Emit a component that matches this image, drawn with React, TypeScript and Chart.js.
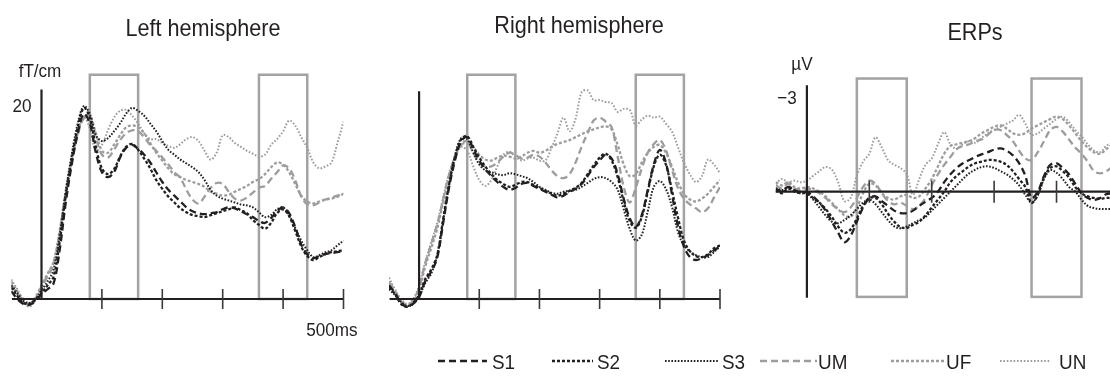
import React, { useEffect, useRef } from "react";
import { Chart, registerables } from "chart.js";

Chart.register(...registerables);

// ---------- DATA ----------
const seriesNames = ["S1", "S2", "S3", "UM", "UF", "UN"];
const timesMEG = [-50,-40,-30,-20,-10,0,10,20,30,40,50,60,70,80,90,100,110,120,130,140,150,160,170,180,190,200,210,220,230,240,250,260,270,280,290,300,310,320,330,340,350,360,370,380,390,400,410,420,430,440,450,460,470,480,490,500];
const timesERP = [-50,-40,-30,-20,-10,0,10,20,30,40,50,60,70,80,90,100,110,120,130,140,150,160,170,180,190,200,210,220,230,240,250,260,270,280,290,300,310,320,330,340,350,360,370,380,390,400,410,420,430,440,450,460,470,480,490];
const windowsMs = [[80, 160], [360, 440]];
const megTicks = [100, 200, 300, 400, 500];
const erpTicks = [100, 200, 300, 400];

// Left hemisphere (fT/cm)
const leftS1 = [0.8,0.0,-0.5,-0.6,-0.2,0.5,1.0,1.6,5.0,9.8,13.8,17.0,19.0,18.0,15.0,13.0,12.5,13.0,14.5,15.5,15.8,15.4,14.8,14.0,13.0,12.0,11.2,10.6,10.0,9.4,9.0,8.8,8.7,8.8,8.9,9.2,9.4,9.3,9.0,8.7,8.4,8.0,7.8,8.3,9.0,9.4,8.8,7.4,5.6,4.6,4.2,4.4,4.6,4.7,4.8,4.9];
const leftS2 = [1.2,0.3,-0.4,-0.5,-0.1,0.6,1.4,2.3,5.8,10.5,14.3,17.6,19.6,18.6,15.6,13.4,12.8,13.3,14.6,15.6,15.9,15.3,14.4,13.4,12.2,11.3,10.5,9.9,9.3,8.9,8.6,8.5,8.4,8.6,8.8,9.0,9.2,9.4,9.1,8.8,8.1,7.6,7.2,7.8,8.8,9.2,8.5,7.0,5.4,4.4,4.0,4.3,4.6,4.8,4.9,5.0];
const leftS3 = [1.4,0.6,-0.2,-0.4,0.0,0.9,1.8,3.0,6.5,11.0,14.8,18.0,19.8,19.0,16.8,16.2,16.5,17.2,18.0,19.0,19.6,19.3,18.8,18.0,17.2,16.2,15.3,14.8,14.3,13.9,13.5,13.0,12.2,11.2,10.6,10.3,10.1,9.9,9.7,9.6,9.4,8.9,8.4,8.6,9.2,9.4,8.6,7.3,6.0,5.0,4.3,4.5,4.8,5.0,5.5,6.0];
const leftUM = [1.5,0.5,-0.3,-0.6,0.0,1.2,2.3,3.5,6.5,10.5,14.0,16.8,18.5,18.3,16.5,14.8,14.5,15.3,16.3,17.0,17.3,17.2,16.6,15.8,15.2,14.5,13.8,13.0,12.4,11.2,10.2,9.8,10.5,11.4,11.9,11.8,11.0,10.3,10.1,10.4,10.9,11.4,11.6,12.3,13.0,13.7,13.4,12.2,10.5,9.7,9.6,9.9,10.2,10.4,10.6,10.9];
const leftUF = [1.8,0.8,0.0,-0.5,0.2,1.4,2.6,3.8,7.0,11.0,14.3,17.0,18.6,18.8,17.0,15.2,15.0,15.8,16.8,17.6,17.8,17.6,17.0,16.0,15.0,14.2,13.4,12.8,12.5,12.2,12.0,11.8,11.5,11.0,10.8,10.6,10.7,11.0,11.3,11.6,12.0,12.3,12.8,13.5,14.0,13.8,13.0,11.8,10.6,10.0,9.8,10.0,10.2,10.3,10.5,10.8];
const leftUN = [2.0,1.0,-0.2,-0.8,0.0,1.3,2.5,3.8,6.8,10.8,14.2,17.0,18.7,17.5,15.2,15.8,17.3,18.6,19.3,19.4,18.8,18.0,17.0,16.4,16.4,16.0,15.7,15.5,15.9,16.4,16.6,16.2,15.2,14.3,15.0,16.8,16.6,16.0,15.6,15.2,14.9,14.6,14.8,15.8,16.4,17.2,18.3,17.8,16.6,15.5,14.0,13.4,13.6,14.0,16.0,18.2];

// Right hemisphere (fT/cm)
const rightS1 = [1.4,0.6,-0.4,-0.8,-0.5,0.2,1.8,2.8,4.2,7.8,11.5,14.3,16.2,16.6,15.4,14.2,13.3,12.6,12.0,11.5,11.2,11.4,11.8,11.9,11.6,11.3,11.0,10.7,10.4,10.6,11.0,11.3,11.8,12.6,13.5,14.2,14.8,14.4,12.8,10.3,8.3,7.4,8.6,11.2,13.8,15.3,14.0,10.8,7.5,5.4,4.3,4.0,4.2,4.5,5.0,5.4];
const rightS2 = [1.2,0.5,-0.5,-0.8,-0.4,0.4,2.0,3.0,4.5,8.2,11.8,14.6,16.4,16.7,15.6,14.5,13.6,12.8,12.2,11.8,11.5,11.7,12.0,12.0,11.7,11.4,11.1,10.8,10.6,10.8,11.1,11.4,11.9,12.8,13.7,14.5,14.9,14.2,12.5,10.0,8.0,7.3,8.4,11.0,13.6,14.8,13.8,11.2,8.4,6.0,4.9,4.4,4.3,4.6,5.2,5.5];
const rightS3 = [1.0,0.4,-0.3,-0.7,-0.5,0.3,1.6,2.6,4.4,8.0,11.8,14.8,16.5,16.4,15.0,13.8,13.2,13.0,12.8,12.7,12.9,12.8,12.6,12.4,12.0,11.5,11.2,10.9,10.8,11.0,11.1,11.2,11.5,11.9,12.3,12.5,12.4,12.0,11.2,9.2,7.2,6.0,6.6,9.0,11.5,12.1,11.3,9.5,6.9,5.5,4.9,4.5,4.3,4.3,4.8,5.4];
const rightUM = [1.8,0.8,-0.2,-0.6,-0.2,1.2,3.6,5.6,7.6,10.2,12.8,14.6,15.8,16.0,15.0,14.0,13.6,13.6,14.0,14.6,15.0,14.8,14.4,14.5,14.8,14.6,14.0,13.2,12.6,12.4,12.8,14.0,15.6,17.0,18.3,18.6,18.2,17.6,14.6,11.5,9.9,11.4,13.4,15.0,15.9,16.3,15.3,13.3,11.4,10.3,9.7,9.3,8.9,9.3,10.4,11.5];
const rightUF = [1.6,0.7,-0.3,-0.7,-0.3,1.0,3.3,5.2,7.2,9.9,12.6,14.6,15.9,16.2,15.6,14.8,14.3,14.2,14.5,14.7,14.6,14.4,14.6,15.0,15.2,15.0,15.2,15.6,15.9,16.1,16.3,16.6,16.9,17.2,17.4,17.6,17.7,17.4,15.8,13.8,12.6,12.8,14.0,15.0,15.6,15.8,15.0,13.6,12.0,10.8,10.2,10.0,10.3,10.8,11.5,12.2];
const rightUN = [2.2,1.0,0.0,-0.5,0.0,1.4,3.8,5.8,7.8,10.4,12.9,14.6,15.6,15.2,13.6,12.2,11.6,12.2,13.6,14.8,15.1,14.6,14.2,14.4,14.5,14.2,14.2,15.5,17.0,18.6,17.2,18.5,21.2,21.4,20.4,20.4,20.2,20.1,19.2,19.5,19.4,17.8,18.4,18.8,18.6,18.7,18.0,17.2,15.6,14.0,12.8,12.0,12.6,14.3,13.8,12.9];

// ERPs (µV, negative up)
const erpS1 = [-0.1,0.0,-0.15,-0.05,0.05,0.0,0.15,0.35,0.6,0.95,1.3,1.6,1.4,0.95,0.5,0.2,0.15,0.3,0.45,0.6,0.68,0.68,0.6,0.45,0.32,0.2,0.0,-0.3,-0.55,-0.75,-0.9,-1.0,-1.1,-1.18,-1.25,-1.33,-1.37,-1.3,-1.15,-0.9,-0.5,0.2,0.0,-0.5,-0.85,-0.9,-0.75,-0.55,-0.25,0.05,0.2,0.26,0.2,0.08,0.05];
const erpS2 = [-0.05,0.05,-0.1,0.0,0.05,0.05,0.2,0.35,0.55,0.8,1.1,1.3,1.2,0.85,0.45,0.2,0.2,0.4,0.7,0.95,1.12,1.15,1.05,0.95,0.75,0.5,0.25,0.0,-0.3,-0.5,-0.65,-0.8,-0.9,-0.95,-1.0,-1.0,-0.95,-0.85,-0.65,-0.4,-0.15,0.35,0.1,-0.45,-0.75,-0.8,-0.65,-0.45,-0.15,0.05,0.15,0.2,0.22,0.2,0.2];
const erpS3 = [-0.1,-0.05,-0.15,-0.05,0.0,0.05,0.25,0.5,0.75,0.95,1.0,0.9,0.75,0.55,0.35,0.25,0.4,0.65,0.9,1.1,1.16,1.1,1.0,0.9,0.8,0.6,0.4,0.2,0.0,-0.2,-0.4,-0.58,-0.7,-0.78,-0.8,-0.75,-0.65,-0.55,-0.4,-0.2,0.1,0.35,0.1,-0.4,-0.68,-0.6,-0.4,-0.15,0.0,0.25,0.45,0.52,0.55,0.55,0.55];
const erpUM = [-0.2,-0.1,-0.25,-0.1,-0.05,-0.1,-0.05,0.05,0.2,0.4,0.55,0.65,0.5,0.2,-0.15,-0.35,-0.25,0.05,0.3,0.4,0.35,0.45,0.55,0.45,0.2,-0.2,-0.55,-0.85,-1.1,-1.35,-1.45,-1.5,-1.6,-1.65,-1.8,-1.95,-1.95,-1.8,-1.6,-1.3,-1.05,-1.0,-1.25,-1.6,-1.95,-2.05,-1.9,-1.65,-1.4,-1.2,-0.95,-0.65,-0.58,-0.65,-0.8];
const erpUF = [-0.3,-0.2,-0.3,-0.15,-0.1,-0.15,-0.1,0.0,0.15,0.35,0.55,0.75,0.8,0.5,0.05,-0.25,-0.2,0.05,0.2,0.25,0.15,0.1,0.2,0.15,-0.1,-0.4,-0.8,-1.2,-1.45,-1.5,-1.55,-1.6,-1.7,-1.85,-1.95,-2.05,-2.1,-2.0,-1.85,-1.8,-1.85,-2.0,-2.1,-2.2,-2.3,-2.38,-2.3,-2.1,-1.85,-1.6,-1.4,-1.25,-1.2,-1.35,-1.5];
const erpUN = [-0.25,-0.4,-0.3,-0.35,-0.3,-0.35,-0.5,-0.65,-0.78,-0.7,-0.3,0.3,0.2,-0.5,-0.95,-1.2,-1.72,-1.4,-1.0,-0.85,-0.75,-0.55,0.1,-0.4,-0.85,-1.05,-1.5,-1.88,-1.5,-1.35,-1.5,-1.6,-1.55,-1.7,-1.85,-1.95,-2.05,-2.15,-2.25,-2.43,-2.15,-1.8,-1.85,-2.0,-2.15,-2.3,-2.37,-2.2,-1.95,-1.75,-1.5,-1.3,-1.25,-1.45,-1.55];

// ---------- STYLES ----------
const BLACK = "#231f20";
const GREY = "#9d9d9d";
const styles = [
  { color: BLACK, dash: [7, 4], width: 2.3 },
  { color: BLACK, dash: [3, 2], width: 2.3 },
  { color: BLACK, dash: [1.6, 1.6], width: 2 },
  { color: GREY, dash: [7, 4], width: 2.3 },
  { color: GREY, dash: [3, 2], width: 2.3 },
  { color: GREY, dash: [1.6, 1.8], width: 2 },
];

type PanelCfg = {
  times: number[];
  series: number[][];
  xMin: number; xMax: number; yMin: number; yMax: number; reverse: boolean;
  pad: { left: number; right: number; top: number; bottom: number };
  boxTop: number; boxBottom: number;
  yAxis: [number, number];
  xAxis: [number, number];
  ticks: number[];
  tickHalf: number;
};

const panels: PanelCfg[] = [
  {
    times: timesMEG, series: [leftS1, leftS2, leftS3, leftUM, leftUF, leftUN],
    xMin: -50, xMax: 500, yMin: -1.2, yMax: 23, reverse: false,
    pad: { left: 11.3, right: 766.5, top: 74.75, bottom: 68.3 },
    boxTop: 23, boxBottom: 0, yAxis: [0, 21.5], xAxis: [-49, 500], ticks: megTicks, tickHalf: 10,
  },
  {
    times: timesMEG, series: [rightS1, rightS2, rightS3, rightUM, rightUF, rightUN],
    xMin: -50, xMax: 500, yMin: -1.2, yMax: 23, reverse: false,
    pad: { left: 389, right: 390, top: 74.75, bottom: 68.3 },
    boxTop: 23, boxBottom: 0, yAxis: [0, 21.3], xAxis: [-49, 500], ticks: megTicks, tickHalf: 10,
  },
  {
    times: timesERP, series: [erpS1, erpS2, erpS3, erpUM, erpUF, erpUN],
    xMin: -50, xMax: 485.7, yMin: -3.6, yMax: 3.4, reverse: true,
    pad: { left: 775.7, right: 0, top: 77.9, bottom: 79.9 },
    boxTop: -3.58, boxBottom: 3.33, yAxis: [-3.37, 3.36], xAxis: [-50, 486], ticks: erpTicks, tickHalf: 11,
  },
];

function makeDecor(cfg: PanelCfg) {
  return {
    id: "decor",
    beforeDatasetsDraw(chart: any) {
      const { ctx, scales } = chart;
      const x = scales.x, y = scales.y;
      ctx.save();
      ctx.strokeStyle = "#a3a3a3";
      ctx.lineWidth = 2.5;
      windowsMs.forEach(([a, b]) => {
        const x1 = x.getPixelForValue(a), x2 = x.getPixelForValue(b);
        const y1 = y.getPixelForValue(cfg.boxTop), y2 = y.getPixelForValue(cfg.boxBottom);
        ctx.strokeRect(x1, Math.min(y1, y2), x2 - x1, Math.abs(y2 - y1));
      });
      ctx.restore();
    },
    afterDatasetsDraw(chart: any) {
      const { ctx, scales } = chart;
      const x = scales.x, y = scales.y;
      ctx.save();
      ctx.strokeStyle = BLACK;
      ctx.lineWidth = 2.2;
      const x0 = x.getPixelForValue(0);
      const y0 = y.getPixelForValue(0);
      ctx.beginPath();
      ctx.moveTo(x0, y.getPixelForValue(cfg.yAxis[0]));
      ctx.lineTo(x0, y.getPixelForValue(cfg.yAxis[1]));
      ctx.moveTo(x.getPixelForValue(cfg.xAxis[0]), y0);
      ctx.lineTo(x.getPixelForValue(cfg.xAxis[1]), y0);
      ctx.stroke();
      ctx.strokeStyle = "#3a3a3a";
      ctx.lineWidth = 1.6;
      ctx.beginPath();
      cfg.ticks.forEach((t) => {
        const px = x.getPixelForValue(t);
        ctx.moveTo(px, y0 - cfg.tickHalf);
        ctx.lineTo(px, y0 + cfg.tickHalf);
      });
      ctx.stroke();
      ctx.restore();
    },
  };
}

function Panel({ cfg }: { cfg: PanelCfg }) {
  const ref = useRef<HTMLCanvasElement | null>(null);
  useEffect(() => {
    if (!ref.current) return;
    const chart = new Chart(ref.current, {
      type: "line",
      data: {
        datasets: cfg.series.map((vals, i) => ({
          label: seriesNames[i],
          data: cfg.times.map((t, j) => ({ x: t, y: vals[j] })),
          borderColor: styles[i].color,
          borderDash: styles[i].dash,
          borderWidth: styles[i].width,
          pointRadius: 0,
          tension: 0.35,
          fill: false,
        })),
      },
      options: {
        animation: false,
        responsive: false,
        events: [],
        layout: { padding: cfg.pad },
        scales: {
          x: { type: "linear", min: cfg.xMin, max: cfg.xMax, display: false },
          y: { type: "linear", min: cfg.yMin, max: cfg.yMax, reverse: cfg.reverse, display: false },
        },
        plugins: { legend: { display: false }, tooltip: { enabled: false } },
      },
      plugins: [makeDecor(cfg)],
    } as any);
    return () => chart.destroy();
  }, [cfg]);
  return (
    <canvas
      ref={ref}
      width={1110}
      height={379}
      style={{ position: "absolute", left: 0, top: 0, width: 1110, height: 379 }}
    />
  );
}

const FONT = "'Liberation Sans Narrow', 'Liberation Sans', Arial, sans-serif";

function Label({ x, y, text, size, sx = 0.9 }: { x: number; y: number; text: string; size: number; sx?: number }) {
  return (
    <div
      style={{
        position: "absolute", left: x, top: y, transform: `translate(-50%, -50%) scaleX(${sx})`,
        fontFamily: FONT, fontSize: size, color: "#231f20", whiteSpace: "nowrap", lineHeight: 1,
      }}
    >
      {text}
    </div>
  );
}

const legendItems = [
  { name: "S1", lineX: 438, lineW: 49, textX: 492 },
  { name: "S2", lineX: 552, lineW: 41, textX: 597 },
  { name: "S3", lineX: 665, lineW: 53, textX: 722 },
  { name: "UM", lineX: 760, lineW: 57, textX: 818 },
  { name: "UF", lineX: 891, lineW: 53, textX: 946 },
  { name: "UN", lineX: 1000, lineW: 50, textX: 1059 },
];

export default function App() {
  return (
    <div style={{ position: "fixed", left: 0, top: 0, width: 1110, height: 379, overflow: "hidden", background: "#fff" }}>
      {panels.map((p, i) => (
        <Panel key={i} cfg={p} />
      ))}
      <Label x={203} y={28} text="Left hemisphere" size={24} />
      <Label x={579} y={25} text="Right hemisphere" size={24} />
      <Label x={975} y={32} text="ERPs" size={24} />
      <Label x={40} y={70} text="fT/cm" size={19} />
      <Label x={21.5} y={105} text="20" size={19} />
      <Label x={332} y={329} text="500ms" size={19} />
      <Label x={802} y={63} text="µV" size={19} />
      <Label x={787} y={97} text="−3" size={19} />
      {legendItems.map((it, i) => (
        <React.Fragment key={it.name}>
          <svg
            width={it.lineW}
            height={6}
            style={{ position: "absolute", left: it.lineX, top: 358 }}
          >
            <line
              x1={0} y1={3} x2={it.lineW} y2={3}
              stroke={styles[i].color}
              strokeWidth={styles[i].width}
              strokeDasharray={styles[i].dash.join(",")}
            />
          </svg>
          <div
            style={{
              position: "absolute", left: it.textX, top: 361, transform: "translateY(-50%) scaleX(0.9)",
              transformOrigin: "left center",
              fontFamily: FONT, fontSize: 21, color: "#231f20", lineHeight: 1, whiteSpace: "nowrap",
            }}
          >
            {it.name}
          </div>
        </React.Fragment>
      ))}
    </div>
  );
}
